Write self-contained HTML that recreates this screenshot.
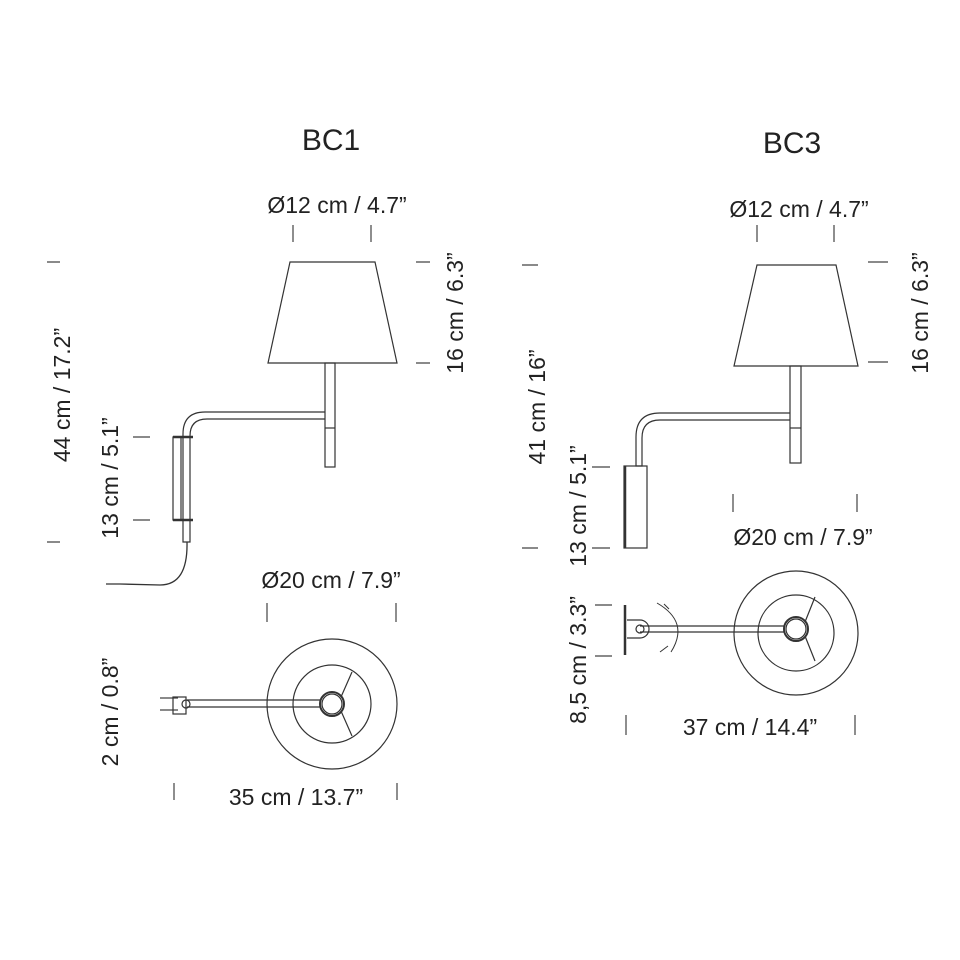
<!DOCTYPE html>
<html><head><style>body{margin:0;background:#fff}svg{display:block}text{font-family:"Liberation Sans",sans-serif;fill:#222}</style></head><body>
<svg width="960" height="960" viewBox="0 0 960 960" xmlns="http://www.w3.org/2000/svg" stroke="#333" fill="none" stroke-width="1.2">
<g stroke="none">
<text x="331" y="150" font-size="30" text-anchor="middle">BC1</text>
<text x="792" y="153" font-size="30" text-anchor="middle">BC3</text>
<g font-size="23">
<text x="337" y="213" text-anchor="middle">Ø12 cm / 4.7”</text>
<text x="799" y="217" text-anchor="middle">Ø12 cm / 4.7”</text>
<text x="331" y="588" text-anchor="middle">Ø20 cm / 7.9”</text>
<text x="803" y="545" text-anchor="middle">Ø20 cm / 7.9”</text>
<text x="296" y="805" text-anchor="middle">35 cm / 13.7”</text>
<text x="750" y="735" text-anchor="middle">37 cm / 14.4”</text>
<text text-anchor="middle" transform="translate(463,313) rotate(-90)">16 cm / 6.3”</text>
<text text-anchor="middle" transform="translate(928,313) rotate(-90)">16 cm / 6.3”</text>
<text text-anchor="middle" transform="translate(70,395) rotate(-90)">44 cm / 17.2”</text>
<text text-anchor="middle" transform="translate(118,478) rotate(-90)">13 cm / 5.1”</text>
<text text-anchor="middle" transform="translate(118,712) rotate(-90)">2 cm / 0.8”</text>
<text text-anchor="middle" transform="translate(545,407) rotate(-90)">41 cm / 16”</text>
<text text-anchor="middle" transform="translate(586,506) rotate(-90)">13 cm / 5.1”</text>
<text text-anchor="middle" transform="translate(586,660) rotate(-90)">8,5 cm / 3.3”</text>
</g>
</g>
<g stroke="#444">
<path d="M293 225V242M371 225V242M757 225V242M834 225V242"/>
<path d="M416 262H430M416 363H430M868 262H888M868 362H888"/>
<path d="M47 262H60M47 542H60M133 437H150M133 520H150"/>
<path d="M522 265H538M522 548H538M592 467H610M592 548H610"/>
<path d="M267 603V622M396 603V622M733 494V512M857 494V512"/>
<path d="M160 698H178M160 710H178M174 783V800M397 783V800"/>
<path d="M595 605H612M595 656H612M626 715V735M855 715V735"/>
</g>
<path d="M290 262H375L397 363H268Z"/>
<rect x="325" y="363" width="10" height="104"/><path d="M325 428H335"/>
<path d="M325 412H205Q183 412 183 434V542H190V436Q190 419 207 419H325"/>
<rect x="173" y="437" width="8" height="83"/><path d="M173 437H193M173 520H193" stroke-width="2.5"/>
<path d="M187 542Q188 585 160 585L120 584M106 584H120" stroke-width="1.3"/>
<circle cx="332" cy="704" r="65"/><circle cx="332" cy="704" r="39"/>
<circle cx="332" cy="704" r="12" stroke-width="2"/><circle cx="332" cy="704" r="10"/>
<path d="M341 697L352 672M341 711L352 736"/>
<path d="M187 700H320M187 707H320"/>
<rect x="173" y="697" width="13" height="17"/><circle cx="186" cy="704" r="4"/>
<path d="M757 265H836L858 366H734Z"/>
<rect x="790" y="366" width="11" height="97"/><path d="M790 428H801"/>
<path d="M790 413H660Q636 413 636 437V466H642V438Q642 420 660 420H790"/>
<rect x="624" y="466" width="23" height="82"/><path d="M625 466V548" stroke-width="2.5"/>
<circle cx="796" cy="633" r="62"/><circle cx="796" cy="633" r="38"/>
<circle cx="796" cy="629" r="12" stroke-width="2"/><circle cx="796" cy="629" r="10"/>
<path d="M805 622L815 597M805 636L815 661"/>
<path d="M640 626H784M640 632H784"/>
<path d="M625 605V655" stroke-width="2.5"/><path d="M627 620H640A8 8 0 0 1 640 638H627"/><circle cx="640" cy="629" r="4"/>
<path d="M657 603Q690 622 671 652" stroke-width="1"/>
<path d="M664 604L669 609M668 646L660 652" stroke-width="1"/>
</svg>
</body></html>
